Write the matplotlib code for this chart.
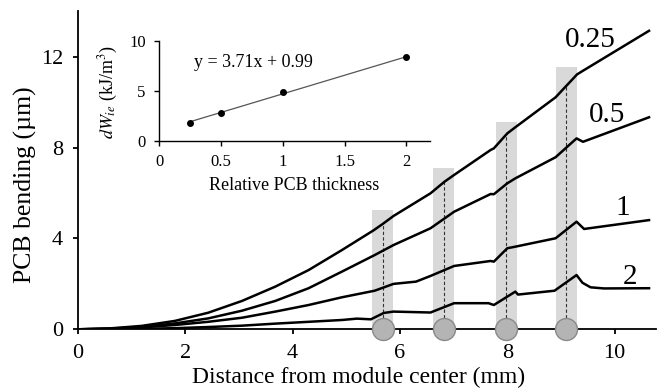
import numpy as np
import matplotlib
matplotlib.use("Agg")
import matplotlib.pyplot as plt

plt.rcParams["font.family"] = ["Liberation Serif", "DejaVu Serif"]
plt.rcParams["mathtext.fontset"] = "stix"

# curves: distance (mm) -> PCB bending (um), one per relative PCB thickness
x_025 = [0, 0.6, 1.19, 1.81, 2.43, 3.06, 3.68, 4.30, 4.92, 5.51, 5.68, 5.88, 6.57, 6.83, 7.01, 7.69, 7.75, 8.0, 8.15, 8.9, 9.3, 9.41, 10.64]
y_025 = [0, 0.04, 0.15, 0.37, 0.73, 1.25, 1.88, 2.61, 3.49, 4.36, 4.64, 4.99, 5.99, 6.5, 6.8, 7.9, 7.97, 8.63, 8.9, 10.22, 11.23, 11.39, 13.15]

x_05 = [0, 0.6, 1.19, 1.81, 2.43, 3.06, 3.68, 4.30, 4.92, 5.53, 5.88, 6.57, 7.01, 7.69, 7.75, 8.0, 8.15, 8.9, 9.29, 9.41, 10.64]
y_05 = [0, 0.03, 0.1, 0.26, 0.48, 0.82, 1.25, 1.81, 2.54, 3.27, 3.71, 4.45, 5.18, 5.96, 5.95, 6.43, 6.65, 7.58, 8.41, 8.26, 9.34]

x_1 = [0, 0.6, 1.19, 1.81, 2.43, 3.06, 3.68, 4.30, 4.92, 5.53, 5.88, 6.3, 6.57, 7.01, 7.69, 7.75, 8.0, 8.15, 8.9, 9.29, 9.43, 10.64]
y_1 = [0, 0.02, 0.08, 0.19, 0.33, 0.51, 0.78, 1.07, 1.41, 1.70, 2.0, 2.1, 2.35, 2.79, 3.01, 2.98, 3.57, 3.64, 4.01, 4.74, 4.42, 4.81]

x_2 = [0, 1.19, 1.81, 2.43, 3.06, 3.68, 4.30, 4.92, 5.2, 5.46, 5.7, 5.88, 6.57, 7.01, 7.65, 7.75, 8.15, 8.2, 8.88, 9.29, 9.4, 9.55, 9.8, 10.64]
y_2 = [0, 0.02, 0.05, 0.1, 0.16, 0.25, 0.33, 0.41, 0.47, 0.44, 0.72, 0.78, 0.74, 1.15, 1.15, 1.07, 1.66, 1.53, 1.7, 2.39, 2.05, 1.85, 1.8, 1.81]

curve_labels = ["0.25", "0.5", "1", "2"]
label_x = [9.55, 9.86, 10.15, 10.29]
label_y = [12.74, 9.44, 5.34, 2.30]

# grey bars / circles at component positions
bar_x = [5.68, 6.82, 7.98, 9.10]
bar_top = [5.25, 7.09, 9.15, 11.54]

# inset data
thick = [0.25, 0.5, 1, 2]
dW = [1.76, 2.76, 4.86, 8.37]
slope, intercept = 3.71, 0.99

fig = plt.figure(figsize=(6.57, 3.91), dpi=100)
ax = fig.add_axes([0.1183, 0.1578, 0.8802, 0.8128])

ax.bar(bar_x, bar_top, width=0.39, color="#d9d9d9", zorder=1)
for bx in bar_x:
    top = np.interp(bx, x_025, y_025)
    ax.plot([bx, bx], [0, top], color="#333333", lw=0.8, ls=(0, (3, 2)), zorder=2)

for xs, ys in [(x_025, y_025), (x_05, y_05), (x_1, y_1), (x_2, y_2)]:
    ax.plot(xs, ys, color="black", lw=1.8, zorder=3, solid_joinstyle="round")

for t, lx, ly in zip(curve_labels, label_x, label_y):
    ax.text(lx, ly, t, fontsize=21, ha="center", va="center", zorder=4)

ax.scatter(bar_x, [0] * len(bar_x), s=250, facecolor="#b4b4b4", edgecolor="#8a8a8a",
           lw=1, zorder=5, clip_on=False)

ax.set_xlim(0, 10.77)
ax.set_ylim(0, 14)
ax.set_xticks([0, 2, 4, 6, 8, 10])
ax.set_yticks([0, 4, 8, 12])
ax.spines["top"].set_visible(False)
ax.spines["right"].set_visible(False)
for s in ["left", "bottom"]:
    ax.spines[s].set_linewidth(1.3)
ax.tick_params(direction="out", length=3.6, width=1.3, labelsize=16, pad=7, colors="black")
ax.set_xlabel("Distance from module center (mm)", fontsize=17, va="center")
ax.xaxis.set_label_coords(0.485, -0.153)
ax.set_ylabel("PCB bending (\u00b5m)", fontsize=18.5, va="center")
ax.yaxis.set_label_coords(-0.091, 0.454)

# inset
ins = fig.add_axes([159 / 657, 1 - 141 / 391, 271 / 657, 100.3 / 391])
ins.patch.set_alpha(0)
xf = np.array([thick[0], thick[-1]])
ins.plot(xf, slope * xf + intercept, color="#555555", lw=0.9)
ins.plot(thick, dW, "o", color="black", ms=4)
ins.text(0.285, 7.8, "y = 3.71x + 0.99", fontsize=13, va="center")
ins.set_xlim(0, 2.19)
ins.set_ylim(0, 10)
ins.set_xticks([0, 0.5, 1, 1.5, 2])
ins.set_xticklabels(["0", "0.5", "1", "1.5", "2"])
ins.set_yticks([0, 5, 10])
ins.spines["top"].set_visible(False)
ins.spines["right"].set_visible(False)
for s in ["left", "bottom"]:
    ins.spines[s].set_linewidth(1.0)
ins.tick_params(direction="out", length=3.6, width=1.0, labelsize=12, pad=6)
ins.set_xlabel("Relative PCB thickness", fontsize=13, va="center")
ins.xaxis.set_label_coords(0.498, -0.44)
ins.set_ylabel(r"$dW_{ie}$ (kJ/m$^3$)", fontsize=13, va="center")
ins.yaxis.set_label_coords(-0.188, 0.49)

fig.savefig("out.png", dpi=100)
